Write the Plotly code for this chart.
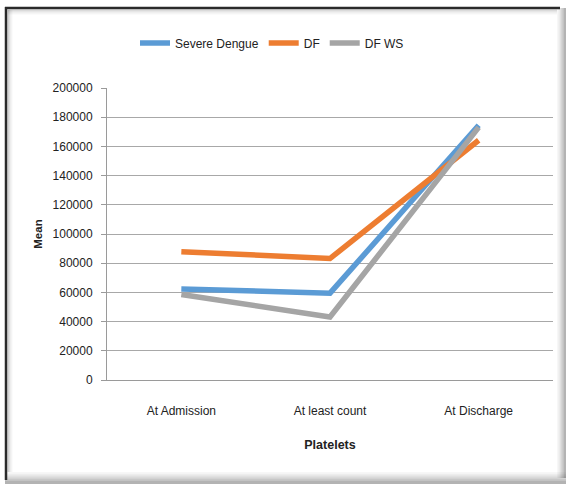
import plotly.graph_objects as go

categories = ["At Admission", "At least count", "At Discharge"]
severe_dengue = [62300, 59500, 174500]
df_vals = [87900, 83200, 164200]
df_ws = [58500, 43200, 173000]
series_names = ["Severe Dengue", "DF", "DF WS"]
colors = ["#5B9BD5", "#ED7D31", "#A5A5A5"]
y_ticks = [0, 20000, 40000, 60000, 80000, 100000, 120000, 140000, 160000, 180000, 200000]

W, H = 566, 484
L, R, T, B = 107, 13, 88, 104
pw, ph = W - L - R, H - T - B

def px(x):
    return (x - L) / pw

def py(y):
    return (H - B - y) / ph

font_family = "Liberation Sans Narrow, Liberation Sans, Arial"

fig = go.Figure()
for name, vals, col in zip(series_names, [severe_dengue, df_vals, df_ws], colors):
    fig.add_trace(go.Scatter(x=categories, y=vals, name=name, mode="lines",
                             line=dict(color=col, width=5.5)))

shapes = []
# outer frame shadow (right and bottom gradient)
for i, op in enumerate([0.03, 0.04, 0.05, 0.06, 0.07, 0.08]):
    shapes.append(dict(type="rect", xref="paper", yref="paper",
                       x0=px(557 + i * 1.4), x1=px(566), y0=py(478), y1=py(8),
                       fillcolor=f"rgba(0,0,0,{op})", line=dict(width=0), layer="below"))
    shapes.append(dict(type="rect", xref="paper", yref="paper",
                       x0=px(5), x1=px(566), y0=py(484), y1=py(472 + i * 1.8),
                       fillcolor=f"rgba(0,0,0,{op})", line=dict(width=0), layer="below"))
# inner soft shadow along top/left
for i, op in enumerate([0.18, 0.12, 0.08, 0.05, 0.03]):
    shapes.append(dict(type="line", xref="paper", yref="paper",
                       x0=px(8 + i), x1=px(8 + i), y0=py(10), y1=py(472),
                       line=dict(color=f"rgba(0,0,0,{op})", width=1.2), layer="below"))
    shapes.append(dict(type="line", xref="paper", yref="paper",
                       x0=px(8), x1=px(557), y0=py(10 + i), y1=py(10 + i),
                       line=dict(color=f"rgba(0,0,0,{op})", width=1.2), layer="below"))
# dark left/top border
shapes.append(dict(type="line", xref="paper", yref="paper",
                   x0=px(6), x1=px(6), y0=py(7), y1=py(480),
                   line=dict(color="#2a2a2a", width=2.5)))
shapes.append(dict(type="line", xref="paper", yref="paper",
                   x0=px(5), x1=px(560), y0=py(8), y1=py(8),
                   line=dict(color="#2a2a2a", width=2.5)))

fig.update_layout(
    width=W, height=H,
    margin=dict(l=L, r=R, t=T, b=B, autoexpand=False),
    paper_bgcolor="white", plot_bgcolor="white",
    font=dict(family=font_family, size=12, color="#222222"),
    showlegend=True,
    legend=dict(orientation="h", x=px(272), xanchor="center", y=py(43), yanchor="middle",
                font=dict(size=12, family=font_family), itemwidth=30,
                traceorder="normal", tracegroupgap=0),
    shapes=shapes,
    xaxis=dict(type="category", range=[-0.5, 2.5], showgrid=False,
               showline=True, linecolor="#9a9a9a", linewidth=1,
               ticks="outside", ticklen=20, tickcolor="rgba(0,0,0,0)",
               tickfont=dict(size=12, family=font_family),
               title=dict(text="<b>Platelets</b>", font=dict(size=12.5, family=font_family), standoff=22),
               fixedrange=True),
    yaxis=dict(range=[0, 200000], tickvals=y_ticks, ticktext=[str(v) for v in y_ticks],
               showgrid=True, gridcolor="#a8a8a8", gridwidth=1,
               showline=True, linecolor="#9a9a9a", linewidth=1,
               ticks="outside", ticklen=5, tickcolor="#9a9a9a", ticklabelstandoff=6,
               tickfont=dict(size=12, family=font_family),
               title=dict(text="<b>Mean</b>", font=dict(size=11.5, family=font_family), standoff=7),
               zeroline=False, fixedrange=True),
)

fig.write_html("out.html", config={"displayModeBar": False},
               post_script="document.body.style.margin='0';document.body.style.overflow='hidden';")
